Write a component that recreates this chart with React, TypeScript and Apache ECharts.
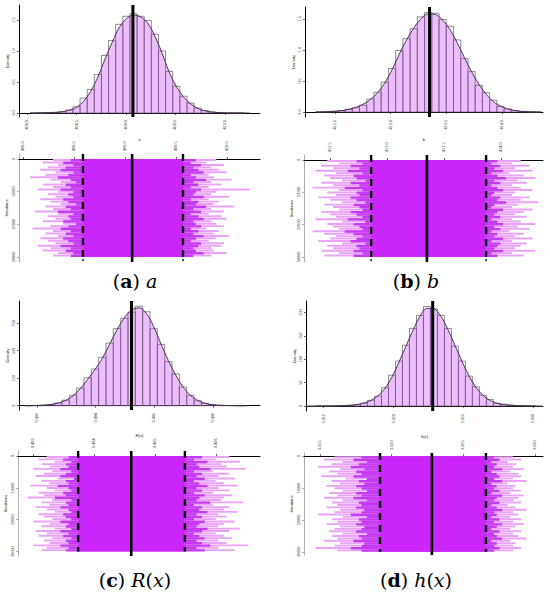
import React, { useEffect, useRef } from "react";
import * as echarts from "echarts";

// ---------- data ----------
const N_ITER = 30000;
const BLOCK = 750;

// histogram bin starts / widths and bin densities
const aBinStart = 408.032;
const aBinW = 0.072;
const aHist = [0, 0.002, 0.004, 0.01, 0.02, 0.05, 0.1, 0.24, 0.38, 0.62, 0.93, 1.17, 1.43, 1.56, 1.6, 1.56, 1.49, 1.27, 1.0, 0.67, 0.43, 0.27, 0.16, 0.08, 0.04, 0.018, 0.008, 0.003, 0.001, 0];
const aDens = [0, 0.002, 0.004, 0.009, 0.02, 0.045, 0.09, 0.19, 0.35, 0.58, 0.87, 1.14, 1.38, 1.52, 1.58, 1.55, 1.45, 1.24, 0.97, 0.66, 0.43, 0.26, 0.15, 0.075, 0.035, 0.015, 0.006, 0.002, 0.001, 0];

const bBinStart = 412.33;
const bBinW = 0.065;
const bHist = [0.002, 0.005, 0.012, 0.025, 0.045, 0.07, 0.11, 0.21, 0.32, 0.48, 0.7, 0.99, 1.18, 1.34, 1.53, 1.6, 1.59, 1.49, 1.38, 1.16, 0.86, 0.65, 0.43, 0.31, 0.19, 0.09, 0.05, 0.025, 0.01, 0.004, 0.001];
const bDens = [0.002, 0.005, 0.011, 0.022, 0.042, 0.075, 0.125, 0.2, 0.31, 0.47, 0.68, 0.93, 1.16, 1.35, 1.5, 1.58, 1.57, 1.48, 1.33, 1.12, 0.88, 0.65, 0.45, 0.29, 0.17, 0.095, 0.05, 0.024, 0.01, 0.004, 0.001];

const cBinStart = 0.4928;
const cBinW = 0.000125;
const cHist = [0, 2, 5, 12, 25, 50, 95, 160, 253, 333, 440, 570, 700, 795, 850, 905, 854, 700, 557, 400, 289, 170, 92, 45, 21, 9, 4, 2, 1, 0];
const cDens = [0, 2, 5, 11, 24, 48, 90, 155, 240, 330, 430, 560, 690, 800, 870, 890, 840, 720, 560, 410, 280, 170, 95, 48, 22, 9, 4, 2, 1, 0];

const dBinStart = 3.01364;
const dBinW = 0.0005;
const dHist = [0, 0.1, 0.1, 0.1, 0.3, 0.7, 1.5, 3, 6, 12, 21, 39, 66, 96, 130, 166, 194, 213, 208, 194, 166, 128, 96, 64, 41, 23, 14, 6, 4, 2, 1, 0.4, 0.2, 0];
const dDens = [0, 0.1, 0.1, 0.2, 0.4, 0.8, 1.6, 3.2, 6.5, 12, 22, 38, 62, 94, 128, 162, 192, 209, 208, 192, 164, 130, 96, 65, 40, 23, 12, 6, 3, 1.5, 0.7, 0.3, 0.1, 0];

// posterior means and 95% interval bounds
const means = [409.07, 413.35, 0.49461, 3.0228];
const qLow = [408.588, 412.86, 0.49374, 3.01918];
const qHigh = [409.569, 413.87, 0.49549, 3.02657];
const curveStart = [408.03, 412.32, 0.4928, 3.0144];
const curveEnd = [410.25, 414.36, 0.49661, 3.0302];

// tick labels
const aTicks = [408, 408.5, 409, 409.5, 410];
const bTicks = [412.5, 413, 413.5, 414];
const cTicks = [0.493, 0.494, 0.495, 0.496];
const dTicks = [3.015, 3.02, 3.025, 3.03];
const abDensTicks = [0, 0.5, 1, 1.5];
const cDensTicks = [0, 250, 500, 750];
const dDensTicks = [0, 50, 100, 150, 200];
const iterTicks = [0, 10000, 20000, 30000];

// trace envelopes per 750-iteration block, in interval-sd units from the mean
const aLightLo = [-3.1, -3.5, -2.9, -3.3, -3.6, -3.0, -3.4, -4.0, -3.2, -2.8, -3.5, -3.1, -3.7, -2.9, -3.3, -3.0, -3.6, -3.2, -2.8, -3.4, -3.1, -3.8, -2.9, -3.3, -3.0, -3.5, -2.7, -3.2, -3.9, -3.1, -3.4, -2.9, -3.6, -3.3, -3.0, -3.7, -3.2, -3.5, -2.9, -3.1];
const aDarkLo = [-2.4, -2.7, -2.3, -2.6, -2.8, -2.3, -2.5, -2.9, -2.4, -2.2, -2.6, -2.4, -2.8, -2.3, -2.5, -2.3, -2.7, -2.5, -2.2, -2.6, -2.4, -2.9, -2.3, -2.5, -2.4, -2.7, -2.2, -2.5, -2.8, -2.4, -2.6, -2.3, -2.7, -2.5, -2.3, -2.8, -2.4, -2.6, -2.3, -2.4];
const aDarkHi = [2.5, 2.3, 2.7, 2.4, 2.6, 2.8, 2.3, 2.5, 2.9, 2.4, 2.6, 2.3, 2.7, 2.5, 2.4, 2.8, 2.3, 2.6, 2.5, 2.9, 2.4, 2.7, 2.3, 2.6, 2.8, 2.4, 2.5, 2.7, 2.3, 2.6, 2.4, 2.8, 2.5, 2.3, 2.7, 2.6, 2.4, 2.5, 2.8, 2.4];
const aLightHi = [3.3, 2.9, 3.6, 3.1, 3.4, 3.7, 3.0, 3.2, 3.9, 3.1, 3.5, 3.0, 4.6, 3.3, 3.1, 3.8, 3.0, 3.4, 3.2, 4.0, 3.1, 3.6, 3.0, 3.5, 3.7, 3.1, 3.3, 3.6, 2.9, 3.4, 3.2, 3.8, 3.3, 3.0, 3.6, 3.5, 3.1, 3.2, 3.7, 3.1];

const bLightLo = [-3.4, -3.0, -3.6, -3.2, -3.8, -3.1, -3.5, -3.3, -2.9, -3.6, -3.2, -3.9, -3.0, -3.4, -3.1, -3.7, -3.3, -2.9, -3.5, -3.2, -3.0, -3.6, -3.3, -3.1, -3.8, -2.9, -3.4, -3.2, -3.0, -3.9, -3.5, -3.1, -3.3, -3.7, -2.9, -3.4, -3.2, -3.6, -3.0, -3.5];
const bDarkLo = [-2.4, -2.2, -2.6, -2.3, -2.7, -2.2, -2.5, -2.4, -2.1, -2.6, -2.3, -2.8, -2.2, -2.4, -2.3, -2.6, -2.4, -2.1, -2.5, -2.3, -2.2, -2.6, -2.4, -2.2, -2.7, -2.1, -2.5, -2.3, -2.2, -2.8, -2.5, -2.2, -2.4, -2.6, -2.1, -2.4, -2.3, -2.5, -2.2, -2.5];
const bDarkHi = [2.4, 2.2, 2.5, 2.3, 2.6, 2.2, 2.4, 2.7, 2.3, 2.5, 2.2, 2.4, 2.6, 2.3, 2.2, 2.5, 2.4, 2.7, 2.3, 2.2, 2.6, 2.4, 2.3, 2.5, 2.2, 2.4, 2.6, 2.3, 2.5, 2.2, 2.4, 2.3, 2.6, 2.2, 2.5, 2.4, 2.3, 2.6, 2.2, 2.4];
const bLightHi = [3.2, 2.9, 3.5, 3.0, 3.6, 2.8, 3.3, 3.7, 3.1, 3.4, 2.9, 3.2, 3.6, 3.0, 2.9, 3.5, 3.2, 3.8, 3.1, 2.9, 3.6, 3.3, 3.0, 3.4, 2.9, 3.2, 3.7, 3.1, 3.5, 2.8, 3.3, 3.0, 3.6, 2.9, 3.4, 3.2, 3.0, 3.7, 2.9, 3.3];

const cLightLo = [-3.1, -3.4, -2.8, -3.3, -3.0, -3.6, -2.9, -3.2, -3.5, -2.7, -3.3, -3.0, -3.7, -3.1, -2.8, -3.4, -3.2, -3.8, -2.9, -3.3, -3.0, -3.5, -3.1, -2.8, -3.4, -3.2, -2.9, -3.6, -3.0, -3.3, -2.8, -3.5, -3.1, -3.4, -2.9, -3.2, -3.0, -3.6, -3.1, -3.3];
const cDarkLo = [-2.3, -2.5, -2.2, -2.4, -2.3, -2.6, -2.2, -2.4, -2.6, -2.1, -2.4, -2.3, -2.7, -2.3, -2.2, -2.5, -2.4, -2.8, -2.2, -2.4, -2.3, -2.6, -2.3, -2.2, -2.5, -2.4, -2.2, -2.6, -2.3, -2.4, -2.2, -2.6, -2.3, -2.5, -2.2, -2.4, -2.3, -2.6, -2.3, -2.4];
const cDarkHi = [2.6, 2.3, 2.8, 2.4, 2.5, 2.9, 2.3, 2.6, 2.4, 2.7, 2.3, 2.5, 2.8, 2.4, 2.6, 2.3, 2.7, 2.5, 2.4, 2.9, 2.3, 2.6, 2.5, 2.8, 2.4, 2.6, 2.3, 2.7, 2.5, 2.4, 2.8, 2.6, 2.3, 2.5, 2.7, 2.4, 2.6, 2.9, 2.4, 2.7];
const cLightHi = [3.6, 3.1, 4.0, 3.3, 3.5, 4.2, 3.0, 3.6, 3.2, 3.8, 3.1, 3.4, 3.9, 3.2, 3.6, 3.0, 3.7, 3.4, 3.3, 4.1, 3.0, 3.6, 3.4, 3.9, 3.2, 3.5, 3.1, 3.8, 3.4, 3.2, 4.0, 3.6, 3.1, 3.4, 3.7, 3.2, 3.5, 4.3, 3.2, 3.8];

const dLightLo = [-3.6, -4.0, -3.3, -3.7, -4.2, -3.4, -3.8, -3.5, -4.1, -3.2, -3.7, -3.4, -3.9, -3.6, -3.3, -3.8, -3.5, -4.0, -3.3, -3.7, -3.5, -3.9, -3.4, -3.6, -4.2, -3.3, -3.7, -3.5, -3.9, -3.4, -3.6, -3.8, -3.3, -3.7, -3.5, -4.0, -3.4, -3.6, -4.3, -3.5];
const dDarkLo = [-2.6, -2.9, -2.4, -2.7, -3.0, -2.5, -2.8, -2.6, -2.9, -2.4, -2.7, -2.5, -2.8, -2.6, -2.4, -2.8, -2.6, -2.9, -2.4, -2.7, -2.6, -2.8, -2.5, -2.6, -3.0, -2.4, -2.7, -2.6, -2.8, -2.5, -2.6, -2.8, -2.4, -2.7, -2.6, -2.9, -2.5, -2.6, -3.0, -2.6];
const dDarkHi = [2.3, 2.5, 2.2, 2.4, 2.3, 2.6, 2.2, 2.4, 2.5, 2.3, 2.6, 2.2, 2.4, 2.3, 2.5, 2.2, 2.6, 2.4, 2.3, 2.5, 2.2, 2.4, 2.6, 2.3, 2.4, 2.2, 2.5, 2.3, 2.6, 2.4, 2.2, 2.5, 2.3, 2.4, 2.6, 2.2, 2.4, 2.3, 2.5, 2.3];
const dLightHi = [3.0, 3.3, 2.8, 3.1, 3.0, 3.4, 2.9, 3.2, 3.3, 3.0, 3.5, 2.8, 3.1, 3.0, 3.3, 2.9, 3.4, 3.2, 3.0, 3.3, 2.8, 3.1, 3.5, 3.0, 3.2, 2.9, 3.3, 3.0, 3.4, 3.1, 2.9, 3.3, 3.0, 3.2, 3.5, 2.9, 3.1, 3.0, 3.3, 3.0];

// ---------- layout ----------
const panels = [
  {
    name: "a", binStart: aBinStart, binW: aBinW, hist: aHist, dens: aDens,
    xTicks: aTicks, yTicks: abDensTicks, xDec: 1, yDec: 1,
    trace: [aLightLo, aDarkLo, aDarkHi, aLightHi], dots: true,
    h: { left: 19, top: 5, width: 241, height: 112, xMin: 407.919, xMax: 410.354, yMin: -0.065, yMax: 1.742, nameGap: 20 },
    t: { left: 19, top: 154, width: 241, height: 108, xMin: 407.961, xMax: 410.324, yMin: -1550, yMax: 31550 },
    cap: { x: 135, y: 281, text: "{n|(}{b|a}{n|) }{i|a}" },
  },
  {
    name: "b", binStart: bBinStart, binW: bBinW, hist: bHist, dens: bDens,
    xTicks: bTicks, yTicks: abDensTicks, xDec: 1, yDec: 1,
    trace: [bLightLo, bDarkLo, bDarkHi, bLightHi], dots: true,
    h: { left: 305, top: 7, width: 238, height: 110, xMin: 412.23, xMax: 414.37, yMin: -0.08, yMax: 1.69, nameGap: 20 },
    t: { left: 304, top: 155, width: 239, height: 107, xMin: 412.27, xMax: 414.37, yMin: -1550, yMax: 31550 },
    cap: { x: 416, y: 281, text: "{n|(}{b|b}{n|) }{i|b}" },
  },
  {
    name: "R(x)", binStart: cBinStart, binW: cBinW, hist: cHist, dens: cDens,
    xTicks: cTicks, yTicks: cDensTicks, xDec: 3, yDec: 0,
    trace: [cLightLo, cDarkLo, cDarkHi, cLightHi], dots: false,
    h: { left: 19, top: 301, width: 241, height: 109, xMin: 0.492693, xMax: 0.496799, yMin: -39, yMax: 952, nameGap: 23 },
    t: { left: 18, top: 451, width: 242, height: 105, xMin: 0.492754, xMax: 0.496721, yMin: -1570, yMax: 31400 },
    cap: { x: 135, y: 580, text: "{n|(}{b|c}{n|) }{i|R}{n|(}{i|x}{n|)}" },
  },
  {
    name: "h(x)", binStart: dBinStart, binW: dBinW, hist: dHist, dens: dDens,
    xTicks: dTicks, yTicks: dDensTicks, xDec: 3, yDec: 0,
    trace: [dLightLo, dDarkLo, dDarkHi, dLightHi], dots: false,
    h: { left: 306, top: 301, width: 237, height: 110, xMin: 3.01374, xMax: 3.03069, yMin: -10.7, yMax: 224.7, nameGap: 23 },
    t: { left: 304, top: 453, width: 239, height: 102, xMin: 3.01388, xMax: 3.03055, yMin: -1000, yMax: 31000 },
    cap: { x: 416, y: 580, text: "{n|(}{b|d}{n|) }{i|h}{n|(}{i|x}{n|)}" },
  },
];

const LABEL = { fontSize: 3.8, color: "#444" };
const NAME = { fontSize: 4.2, color: "#222" };

function rectItem(fill: string, stroke?: string) {
  return (params: any, api: any) => {
    const p0 = api.coord([api.value(0), api.value(2)]);
    const p1 = api.coord([api.value(1), api.value(3)]);
    return {
      type: "rect",
      shape: {
        x: Math.min(p0[0], p1[0]),
        y: Math.min(p0[1], p1[1]),
        width: Math.abs(p1[0] - p0[0]),
        height: Math.abs(p1[1] - p0[1]),
      },
      style: stroke ? { fill, stroke, lineWidth: 0.7 } : { fill },
    };
  };
}

function buildOption() {
  const grid: any[] = [];
  const xAxis: any[] = [];
  const yAxis: any[] = [];
  const series: any[] = [];
  const graphic: any[] = [];

  panels.forEach((p, pi) => {
    const mean = means[pi];
    const lo = qLow[pi];
    const hi = qHigh[pi];
    const fx = (v: number) => v.toFixed(p.xDec);
    const fy = (v: number) => v.toFixed(p.yDec);

    // ---- histogram ----
    const hi0 = grid.length;
    grid.push({ left: p.h.left, top: p.h.top, width: p.h.width, height: p.h.height });
    xAxis.push({
      gridIndex: hi0, type: "value", min: p.h.xMin, max: p.h.xMax,
      axisLine: { show: true, lineStyle: { color: "#000", width: 1 } },
      axisTick: { show: true, length: 2, customValues: p.xTicks, lineStyle: { color: "#000", width: 0.6 } },
      axisLabel: { show: true, rotate: 90, margin: 3, ...LABEL, customValues: p.xTicks, formatter: fx },
      splitLine: { show: false },
      name: p.name, nameLocation: "middle", nameGap: p.h.nameGap, nameTextStyle: NAME,
    });
    yAxis.push({
      gridIndex: hi0, type: "value", min: p.h.yMin, max: p.h.yMax,
      axisLine: { show: true, lineStyle: { color: "#000", width: 1 } },
      axisTick: { show: true, length: 2, customValues: p.yTicks, lineStyle: { color: "#000", width: 0.6 } },
      axisLabel: { show: true, rotate: 90, margin: 3, ...LABEL, customValues: p.yTicks, formatter: fy },
      splitLine: { show: false },
      name: "Density", nameLocation: "middle", nameGap: 10, nameTextStyle: NAME,
    });

    const bins = p.hist.map((h, k) => [p.binStart + k * p.binW, p.binStart + (k + 1) * p.binW, h, 0]);
    series.push({
      type: "custom", xAxisIndex: hi0, yAxisIndex: hi0, z: 1, clip: true,
      encode: { x: [0, 1], y: [2, 3] },
      renderItem: rectItem("rgba(0,0,0,0)", "#5a5a5a"),
      data: bins,
    });
    const curve: number[][] = [[curveStart[pi], 0]];
    p.dens.forEach((d, k) => {
      const c = p.binStart + (k + 0.5) * p.binW;
      if (c > curveStart[pi] && c < curveEnd[pi]) curve.push([c, d]);
    });
    curve.push([curveEnd[pi], 0]);
    series.push({
      type: "line", xAxisIndex: hi0, yAxisIndex: hi0, z: 2, smooth: 0.35, symbol: "none",
      lineStyle: { color: "#3a2a40", width: 0.9 },
      areaStyle: { color: "rgba(190,60,245,0.47)" },
      data: curve,
    });
    series.push({
      type: "line", xAxisIndex: hi0, yAxisIndex: hi0, z: 4, symbol: "none",
      lineStyle: { color: "#000", width: 3 },
      data: [[mean, p.h.yMin], [mean, p.h.yMax]],
    });

    // ---- trace ----
    const ti = grid.length;
    grid.push({ left: p.t.left, top: p.t.top, width: p.t.width, height: p.t.height });
    xAxis.push({
      gridIndex: ti, type: "value", position: "top", min: p.t.xMin, max: p.t.xMax,
      axisLine: { show: true, lineStyle: { color: "#000", width: 1 } },
      axisTick: { show: true, length: 2, customValues: p.xTicks, lineStyle: { color: "#000", width: 0.6 } },
      axisLabel: { show: true, rotate: 90, margin: 3, ...LABEL, customValues: p.xTicks, formatter: fx },
      splitLine: { show: false },
    });
    yAxis.push({
      gridIndex: ti, type: "value", inverse: true, min: p.t.yMin, max: p.t.yMax,
      axisLine: { show: true, lineStyle: { color: "#999", width: 0.8 } },
      axisTick: { show: true, length: 2, customValues: iterTicks, lineStyle: { color: "#777", width: 0.6 } },
      axisLabel: { show: true, rotate: 90, margin: 3, ...LABEL, customValues: iterTicks, formatter: (v: number) => String(Math.round(v)) },
      splitLine: { show: false },
      name: "Iterations", nameLocation: "middle", nameGap: 11, nameTextStyle: NAME,
    });

    const s = (hi - lo) / 3.92;
    const [lightLo, darkLo, darkHi, lightHi] = p.trace;
    const light = lightLo.map((z, i) => [mean + z * s, mean + lightHi[i] * s, i * BLOCK, i * BLOCK + BLOCK * 0.8]);
    const dark = darkLo.map((z, i) => [mean + z * s, mean + darkHi[i] * s, i * BLOCK, (i + 1) * BLOCK]);
    series.push({
      type: "custom", xAxisIndex: ti, yAxisIndex: ti, z: 1, clip: true,
      encode: { x: [0, 1], y: [2, 3] }, renderItem: rectItem("#e9a2f7"), data: light,
    });
    series.push({
      type: "custom", xAxisIndex: ti, yAxisIndex: ti, z: 2, clip: true,
      encode: { x: [0, 1], y: [2, 3] }, renderItem: rectItem("#c53af2"), data: dark,
    });
    series.push({
      type: "custom", xAxisIndex: ti, yAxisIndex: ti, z: 3, clip: true,
      encode: { x: [0, 1], y: [2, 3] }, renderItem: rectItem("#cb26fb"), data: [[lo, hi, 0, N_ITER]],
    });
    series.push({
      type: "line", xAxisIndex: ti, yAxisIndex: ti, z: 5, symbol: "none",
      lineStyle: { color: "#000", width: 2.6 },
      data: [[mean, p.t.yMin], [mean, p.t.yMax]],
    });
    [lo, hi].forEach((q) => {
      series.push({
        type: "line", xAxisIndex: ti, yAxisIndex: ti, z: 5, symbol: "none",
        lineStyle: { color: "#000", width: 2.4, type: [7, 5] },
        data: [[q, p.t.yMin], [q, N_ITER]],
      });
    });
    if (p.dots) {
      series.push({
        type: "scatter", xAxisIndex: ti, yAxisIndex: ti, z: 5, symbolSize: 2,
        itemStyle: { color: "#000" },
        data: [[lo, 31000], [mean, 31000], [hi, 31000]],
      });
    }

    graphic.push({
      type: "text", x: p.cap.x, y: p.cap.y,
      style: {
        text: p.cap.text, align: "center", verticalAlign: "middle",
        rich: {
          n: { fontFamily: "DejaVu Serif", fontSize: 19, fill: "#000" },
          b: { fontFamily: "DejaVu Serif", fontSize: 19, fontWeight: "bold", fill: "#000" },
          i: { fontFamily: "DejaVu Serif", fontSize: 19, fontStyle: "italic", fill: "#000" },
        },
      },
    });
  });

  return {
    animation: false,
    backgroundColor: "#fff",
    textStyle: { fontFamily: "Liberation Sans" },
    grid, xAxis, yAxis, series, graphic,
  };
}

export default function App() {
  const ref = useRef<HTMLDivElement>(null);
  useEffect(() => {
    document.body.style.margin = "0";
    if (!ref.current) return;
    const chart = echarts.init(ref.current, undefined, { renderer: "svg" });
    chart.setOption(buildOption() as any);
    return () => chart.dispose();
  }, []);
  return <div ref={ref} style={{ width: 550, height: 596 }} />;
}
